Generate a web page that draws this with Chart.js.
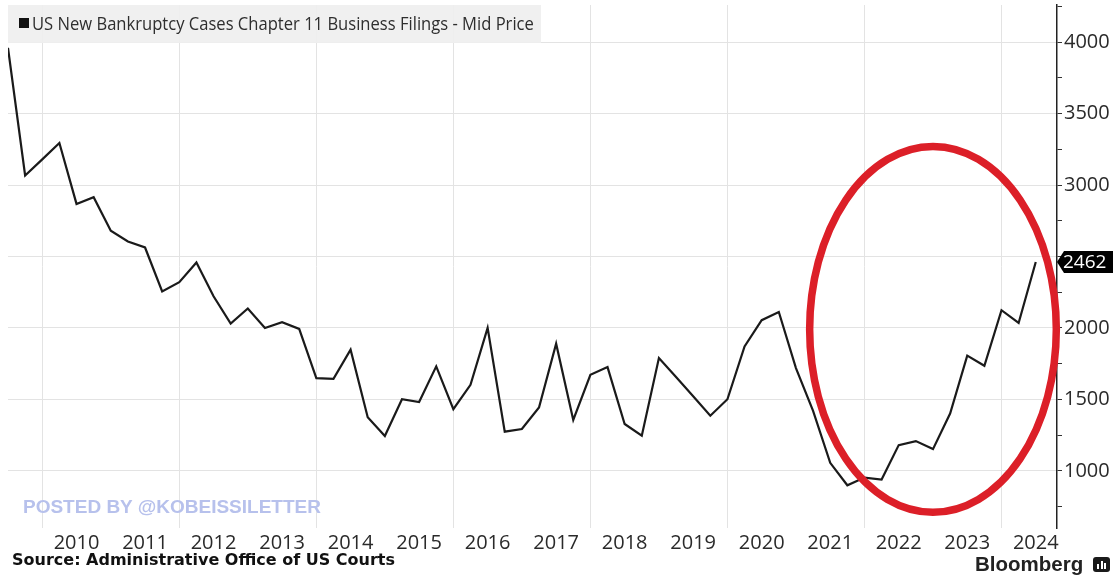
<!DOCTYPE html>
<html>
<head>
<meta charset="utf-8">
<title>US Chapter 11 Business Filings</title>
<script src="https://cdn.jsdelivr.net/npm/chart.js@4.4.1/dist/chart.umd.min.js"></script>
<style>
  html, body { margin: 0; padding: 0; background: #fff; }
  #wrap { position: relative; width: 1113px; height: 575px; overflow: hidden; background: #fff; }
  #chart { position: absolute; left: 0; top: 0; }
  .legend {
    position: absolute; left: 8px; top: 5px; width: 533px; height: 38px;
    background: rgba(238, 238, 238, 0.9);
  }
  .legend .sw { position: absolute; left: 11px; top: 13px; width: 10px; height: 10px; background: #111; }
  .legend .txt {
    position: absolute; left: 24px; top: 0; white-space: nowrap;
    font: 18px "Open Sans", sans-serif; line-height: 37px; color: #2e2e2e; transform-origin: 0 50%;
  }
  .mark {
    position: absolute; left: 23px; top: 497px; white-space: nowrap;
    font: bold 19px "Liberation Sans", Arial, sans-serif; line-height: 19px; color: #b7c1ec;
  }
  .source {
    position: absolute; left: 12px; top: 552px; white-space: nowrap;
    font: bold 16px "DejaVu Sans", sans-serif; line-height: 16px; color: #111;
  }
  .brand {
    position: absolute; left: 975px; top: 554px; white-space: nowrap;
    font: bold 20.5px "Liberation Sans", Arial, sans-serif; line-height: 20px; color: #222;
  }
  .logo {
    position: absolute; left: 1093px; top: 557px; width: 17px; height: 15px;
    background: #1a1a1a; border-radius: 3px;
  }
  .logo i { position: absolute; bottom: 3px; width: 2px; background: #fff; }
</style>
</head>
<body>
<div id="wrap">
  <canvas id="chart" width="1113" height="575"></canvas>
  <div class="legend"><span class="sw"></span><span class="txt" id="legendText">US New Bankruptcy Cases Chapter 11 Business Filings - Mid Price</span></div>
  <div class="mark">POSTED BY @KOBEISSILETTER</div>
  <div class="source">Source: Administrative Office of US Courts</div>
  <div class="brand">Bloomberg</div>
  <div class="logo"><i style="left:4px;height:5px"></i><i style="left:7.5px;height:8px"></i><i style="left:11px;height:6px"></i></div>
</div>
<script>
// quarterly readings, Q2 2009 .. Q2 2024
const quarters = [
  "2009 Q2", "2009 Q3", "2009 Q4",
  "2010 Q1", "2010 Q2", "2010 Q3", "2010 Q4",
  "2011 Q1", "2011 Q2", "2011 Q3", "2011 Q4",
  "2012 Q1", "2012 Q2", "2012 Q3", "2012 Q4",
  "2013 Q1", "2013 Q2", "2013 Q3", "2013 Q4",
  "2014 Q1", "2014 Q2", "2014 Q3", "2014 Q4",
  "2015 Q1", "2015 Q2", "2015 Q3", "2015 Q4",
  "2016 Q1", "2016 Q2", "2016 Q3", "2016 Q4",
  "2017 Q1", "2017 Q2", "2017 Q3", "2017 Q4",
  "2018 Q1", "2018 Q2", "2018 Q3", "2018 Q4",
  "2019 Q1", "2019 Q2", "2019 Q3", "2019 Q4",
  "2020 Q1", "2020 Q2", "2020 Q3", "2020 Q4",
  "2021 Q1", "2021 Q2", "2021 Q3", "2021 Q4",
  "2022 Q1", "2022 Q2", "2022 Q3", "2022 Q4",
  "2023 Q1", "2023 Q2", "2023 Q3", "2023 Q4",
  "2024 Q1", "2024 Q2"
];

const filings = [
  3960, 3067, 3180,
  3294, 2868, 2915, 2680,
  2605, 2563, 2255, 2320,
  2458, 2222, 2030, 2136,
  2000, 2040, 1993, 1649,
  1644, 1848, 1375, 1244,
  1501, 1482, 1731, 1431,
  1602, 2000, 1274, 1293,
  1443, 1890, 1356, 1672,
  1726, 1328, 1246, 1789,
  1656, 1522, 1386, 1501,
  1871, 2054, 2112, 1719,
  1420, 1056, 899, 953,
  939, 1180, 1208, 1152,
  1401, 1806, 1735, 2124,
  2035, 2462
];

const yearLabels = ["2010", "2011", "2012", "2013", "2014", "2015", "2016", "2017",
                    "2018", "2019", "2020", "2021", "2022", "2023", "2024"];
const valueLabels = [1000, 1500, 2000, 3000, 3500, 4000];

// red ring drawn around the recent rebound (centre and half-widths in data units)
const ring = { year: 2023.0, value: 1990, halfYears: 1.8, halfValue: 1280 };

// quarter-end as a fractional year: "2009 Q2" -> 2009.5
function quarterEnd(q) {
  const [yr, qq] = q.split(" Q");
  return Number(yr) + Number(qq) / 4;
}

// squeeze the legend title into the width of its box
const lt = document.getElementById("legendText");
lt.style.transform = "scaleX(" + Math.min(1, 502 / lt.offsetWidth) + ")";

const GRID = "#e3e3e3";
const tickFont = { family: "'Open Sans', sans-serif", size: 20 };

// keep the plot area exactly where the layout padding puts it
function noEdgePadding(scale) {
  scale.paddingTop = 0;
  scale.paddingBottom = 0;
  scale.paddingLeft = 0;
  scale.paddingRight = 0;
}

const overlay = {
  id: "overlay",
  afterDraw(chart) {
    const { ctx, chartArea, scales } = chart;
    const x = scales.x, y = scales.y;

    // hand-drawn style ring
    const cx = x.getPixelForValue(ring.year);
    const cy = y.getPixelForValue(ring.value);
    const rx = x.getPixelForValue(ring.year + ring.halfYears) - cx;
    const ry = cy - y.getPixelForValue(ring.value + ring.halfValue);
    ctx.save();
    ctx.beginPath();
    ctx.ellipse(cx, cy, rx, ry, 0, 0, Math.PI * 2);
    ctx.lineWidth = 7.5;
    ctx.strokeStyle = "#dc1f28";
    ctx.stroke();

    // last value tag on the axis
    const last = filings[filings.length - 1];
    const ty = y.getPixelForValue(last);
    const left = chartArea.right;
    ctx.beginPath();
    ctx.moveTo(left, ty);
    ctx.lineTo(left + 7, ty - 11);
    ctx.lineTo(chart.width, ty - 11);
    ctx.lineTo(chart.width, ty + 11);
    ctx.lineTo(left + 7, ty + 11);
    ctx.closePath();
    ctx.fillStyle = "#000";
    ctx.fill();
    ctx.fillStyle = "#fff";
    ctx.font = "19px 'Open Sans', sans-serif";
    ctx.textBaseline = "middle";
    ctx.fillText(String(last), left + 6, ty + 1);
    ctx.restore();
  }
};

const ctx = document.getElementById("chart").getContext("2d");
const chart = new Chart(ctx, {
  type: "line",
  data: {
    datasets: [{
      label: "US New Bankruptcy Cases Chapter 11 Business Filings - Mid Price",
      data: quarters.map((q, i) => ({ x: quarterEnd(q), y: filings[i] })),
      borderColor: "#1a1a1a",
      borderWidth: 2.2,
      pointRadius: 0,
      tension: 0,
    }],
  },
  options: {
    responsive: false,
    animation: false,
    devicePixelRatio: 1,
    layout: { padding: { left: 8, top: 5, right: 0, bottom: 0 } },
    plugins: { legend: { display: false }, tooltip: { enabled: false } },
    scales: {
      x: {
        type: "linear",
        min: 2009.5,
        max: 2024.81,
        afterBuildTicks: (scale) => {
          const ticks = [];
          yearLabels.forEach((yr) => {
            ticks.push({ value: Number(yr) });
            ticks.push({ value: Number(yr) + 0.5 });
          });
          scale.ticks = ticks;
        },
        afterFit: (scale) => { scale.height = 47; noEdgePadding(scale); },
        grid: {
          drawTicks: false,
          color: (c) => (c.tick && c.tick.value % 2 === 0 ? GRID : "rgba(0,0,0,0)"),
        },
        border: { display: false },
        ticks: {
          autoSkip: false,
          maxRotation: 0,
          padding: 3,
          color: "#2a2a2a",
          font: tickFont,
          callback: (v) => (v % 1 === 0.5 ? String(Math.floor(v)) : ""),
        },
      },
      y: {
        position: "right",
        min: 600,
        max: 4260,
        afterBuildTicks: (scale) => {
          const ticks = [];
          for (let v = 750; v <= 4250; v += 250) ticks.push({ value: v });
          scale.ticks = ticks;
        },
        afterFit: (scale) => { scale.width = 56; noEdgePadding(scale); },
        grid: {
          color: (c) => (c.tick && c.tick.value % 500 === 0 ? GRID : "rgba(0,0,0,0)"),
          tickColor: "#333",
          tickLength: 5,
        },
        border: { display: true, color: "#222", width: 1.5 },
        ticks: {
          padding: 2,
          color: "#2a2a2a",
          font: tickFont,
          callback: (v) => (valueLabels.includes(v) ? String(v) : ""),
        },
      },
    },
  },
  plugins: [overlay],
});
</script>
</body>
</html>
